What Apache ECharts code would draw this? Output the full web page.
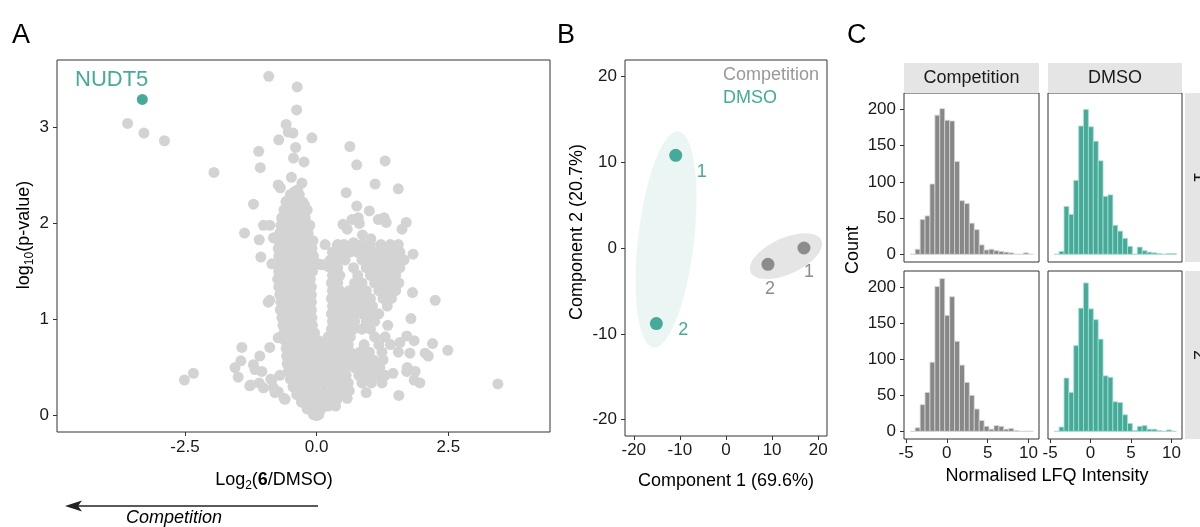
<!DOCTYPE html>
<html><head><meta charset="utf-8">
<script src="https://cdn.jsdelivr.net/npm/echarts@6/dist/echarts.min.js"></script>
<style>html,body{margin:0;padding:0;background:#fff}#c{width:1200px;height:527px}</style>
</head><body><div id="c"></div>
<script>
// ---------------- DATA ----------------
// Panel A: volcano plot, [log2(6/DMSO), -log10(p)]
const volcanoPoints = [
[-3.59,3.04],[-3.28,2.94],[-2.89,2.86],[-1.95,2.53],[-0.91,3.53],[-0.37,3.42],[-0.38,3.18],[-0.58,3.03],[-0.54,2.95],[-0.45,2.94],[-0.72,2.87],[-0.09,2.89],[-1.10,2.75],[-0.40,2.79],[-0.44,2.68],[-0.24,2.64],[-1.07,2.58],[-0.48,2.48],[-0.28,2.42],[-0.73,2.40],[-0.69,2.37],[-0.42,2.33],[-0.36,2.35],[-1.20,2.20],[-0.58,2.23],[-0.23,2.19],[-1.01,1.98],[-0.89,1.98],[-0.66,2.05],[-0.22,2.04],[-1.37,1.90],[-1.09,1.83],[-0.82,1.85],[-1.06,1.65],[-0.85,1.58],[-0.92,1.18],[-0.89,1.20],
[-2.51,0.37],[-2.34,0.44],[-1.42,0.71],[-0.89,0.71],[-1.08,0.62],[-1.44,0.57],[-1.55,0.50],[-1.49,0.40],[-1.20,0.53],[-1.17,0.48],[-1.04,0.46],[-1.25,0.32],[-1.09,0.34],[-1.01,0.29],[-0.85,0.37],[-0.73,0.25],[-0.62,0.18],[-0.82,0.29],[-0.70,0.42],[-1.27,0.31],[-0.87,0.38],[-0.79,0.24],[-0.60,0.17],[-0.73,0.81],
[0.63,2.80],[0.76,2.61],[1.30,2.65],[1.11,2.41],[1.55,2.36],[0.56,2.32],[0.76,2.18],[1.00,2.13],[0.79,2.06],[0.67,2.04],[0.81,2.00],[1.17,2.04],[1.28,2.06],[1.32,2.01],[1.70,2.01],[1.62,1.94],[0.50,1.99],[0.58,1.94],[0.87,1.88],[1.03,1.84],[0.16,1.78],[0.39,1.77],[0.45,1.75],[0.70,1.80],[1.83,1.68],[0.03,1.58],[0.19,1.58],[0.09,1.57],[0.22,1.55],
[1.82,1.28],[2.25,1.20],[1.79,1.01],[1.35,0.94],[2.20,0.75],[2.49,0.68],[2.06,0.65],[2.12,0.62],[3.44,0.33],[1.56,0.21],[1.96,0.34],[1.85,0.37],[1.71,0.46],[1.87,0.46],[0.94,0.24],[1.77,0.65],[1.71,0.83],[1.85,0.78],[1.58,0.76],[1.55,0.66],[1.45,0.44],[1.72,0.50],
[0.00,0.00],[-0.05,0.04],[0.06,0.05],[0.12,0.09],[-0.12,0.08],
[-0.50,2.30],[-0.33,2.30],
[-0.58,2.22],[-0.42,2.22],[-0.26,2.22],
[-0.62,2.14],[-0.47,2.14],[-0.31,2.14],[-0.18,2.14],
[-0.66,2.06],[-0.52,2.06],[-0.37,2.06],[-0.22,2.06],
[-0.68,1.98],[-0.55,1.98],[-0.40,1.98],[-0.26,1.98],[-0.13,1.98],
[-0.70,1.90],[-0.58,1.90],[-0.45,1.90],[-0.30,1.90],[-0.16,1.90],
[-0.72,1.82],[-0.60,1.82],[-0.47,1.82],[-0.33,1.82],[-0.19,1.82],[-0.07,1.82],
[-0.73,1.74],[-0.61,1.74],[-0.49,1.74],[-0.36,1.74],[-0.22,1.74],[-0.09,1.74],
[-0.72,1.66],[-0.60,1.66],[-0.46,1.66],[-0.33,1.66],[-0.19,1.66],[-0.06,1.66],
[-0.74,1.58],[-0.62,1.58],[-0.50,1.58],[-0.37,1.58],[-0.24,1.58],[-0.10,1.58],
[-0.72,1.50],[-0.60,1.50],[-0.48,1.50],[-0.35,1.50],[-0.21,1.50],[-0.08,1.50],
[-0.74,1.42],[-0.63,1.42],[-0.51,1.42],[-0.39,1.42],[-0.26,1.42],[-0.12,1.42],
[-0.72,1.34],[-0.61,1.34],[-0.49,1.34],[-0.37,1.34],[-0.23,1.34],[-0.10,1.34],
[-0.70,1.26],[-0.59,1.26],[-0.47,1.26],[-0.35,1.26],[-0.21,1.26],[-0.10,1.26],
[-0.68,1.18],[-0.57,1.18],[-0.45,1.18],[-0.32,1.18],[-0.20,1.18],[-0.10,1.18],
[-0.69,1.10],[-0.58,1.10],[-0.46,1.10],[-0.34,1.10],[-0.22,1.10],[-0.10,1.10],
[-0.66,1.02],[-0.55,1.02],[-0.43,1.02],[-0.31,1.02],[-0.18,1.02],[-0.09,1.02],
[-0.64,0.94],[-0.53,0.94],[-0.41,0.94],[-0.29,0.94],[-0.16,0.94],[-0.08,0.94],
[-0.62,0.86],[-0.51,0.86],[-0.39,0.86],[-0.27,0.86],[-0.14,0.86],[-0.04,0.86],
[-0.60,0.78],[-0.49,0.78],[-0.37,0.78],[-0.24,0.78],[-0.10,0.78],[0.04,0.78],
[-0.58,0.70],[-0.47,0.70],[-0.35,0.70],[-0.22,0.70],[-0.08,0.70],[0.06,0.70],
[-0.57,0.62],[-0.46,0.62],[-0.33,0.62],[-0.20,0.62],[-0.06,0.62],[0.08,0.62],
[-0.56,0.54],[-0.44,0.54],[-0.31,0.54],[-0.18,0.54],[-0.04,0.54],[0.10,0.54],
[-0.54,0.46],[-0.42,0.46],[-0.29,0.46],[-0.15,0.46],[-0.01,0.46],[0.13,0.46],
[-0.50,0.38],[-0.38,0.38],[-0.24,0.38],[-0.10,0.38],[0.04,0.38],[0.16,0.38],
[-0.45,0.30],[-0.31,0.30],[-0.17,0.30],[-0.03,0.30],[0.11,0.30],
[-0.38,0.22],[-0.24,0.22],[-0.10,0.22],[0.04,0.22],[0.16,0.22],
[-0.29,0.14],[-0.15,0.14],[-0.01,0.14],[0.12,0.14],
[-0.18,0.07],[-0.05,0.07],[0.08,0.07],
[-0.06,0.01],[0.04,0.01],
[0.40,1.78],[0.52,1.78],[0.68,1.78],[0.86,1.78],[1.02,1.78],[1.22,1.78],[1.40,1.78],[1.55,1.78],
[0.30,1.70],[0.46,1.70],[0.62,1.70],[0.78,1.70],[0.94,1.70],[1.10,1.70],[1.26,1.70],[1.42,1.70],[1.58,1.70],
[0.26,1.62],[0.38,1.62],[0.54,1.62],[0.86,1.62],[1.02,1.62],[1.18,1.62],[1.34,1.62],[1.50,1.62],[1.66,1.62],
[0.28,1.54],[0.40,1.54],[0.70,1.54],[0.94,1.54],[1.10,1.54],[1.26,1.54],[1.42,1.54],[1.58,1.54],
[0.30,1.46],[0.44,1.46],[0.78,1.46],[1.02,1.46],[1.18,1.46],[1.34,1.46],[1.50,1.46],
[0.28,1.38],[0.40,1.38],[0.72,1.38],[0.86,1.38],[1.10,1.38],[1.26,1.38],[1.42,1.38],[1.56,1.38],
[0.30,1.30],[0.44,1.30],[0.62,1.30],[0.78,1.30],[0.94,1.30],[1.18,1.30],[1.34,1.30],[1.50,1.30],
[0.28,1.22],[0.42,1.22],[0.56,1.22],[0.70,1.22],[0.86,1.22],[1.02,1.22],[1.26,1.22],[1.42,1.22],
[0.30,1.14],[0.44,1.14],[0.58,1.14],[0.74,1.14],[0.90,1.14],[1.06,1.14],[1.34,1.14],
[0.28,1.06],[0.42,1.06],[0.56,1.06],[0.70,1.06],[0.86,1.06],[1.02,1.06],[1.18,1.06],
[0.30,0.98],[0.44,0.98],[0.58,0.98],[0.72,0.98],[0.94,0.98],[1.10,0.98],
[0.28,0.90],[0.42,0.90],[0.56,0.90],[0.70,0.90],[0.86,0.90],[1.02,0.90],
[0.22,0.82],[0.36,0.82],[0.50,0.82],[0.64,0.82],[1.10,0.82],[1.30,0.82],
[0.18,0.74],[0.32,0.74],[0.46,0.74],[0.60,0.74],[0.90,0.74],[1.18,0.74],[1.40,0.74],
[0.22,0.66],[0.36,0.66],[0.50,0.66],[0.64,0.66],[0.82,0.66],[1.00,0.66],[1.24,0.66],
[0.20,0.58],[0.34,0.58],[0.48,0.58],[0.62,0.58],[0.76,0.58],[0.92,0.58],[1.08,0.58],[1.26,0.58],
[0.26,0.50],[0.40,0.50],[0.54,0.50],[0.72,0.50],[0.88,0.50],[1.02,0.50],[1.20,0.50],
[0.28,0.42],[0.42,0.42],[0.56,0.42],[0.80,0.42],[0.96,0.42],[1.14,0.42],[1.30,0.42],
[0.28,0.34],[0.44,0.34],[0.60,0.34],[0.86,0.34],[1.04,0.34],[1.24,0.34],
[0.30,0.26],[0.46,0.26],[0.62,0.26],
[0.26,0.18],[0.40,0.18],[0.58,0.18],
[0.22,0.10],[0.36,0.10]
];
const nudt5Point = [-3.31, 3.29];
const nudt5Label = 'NUDT5';
const volcanoXTicks = [-2.5, 0, 2.5];
const volcanoYTicks = [0, 1, 2, 3];

// Panel B: PCA scores
const pcaReplicates = ['1', '2'];
const pcaDmsoComp1 = [-10.9, -15.1];
const pcaDmsoComp2 = [10.8, -8.8];
const pcaCompetitionComp1 = [16.9, 9.1];
const pcaCompetitionComp2 = [0.0, -1.9];
const pcaTicks = [-20, -10, 0, 10, 20];

// Panel C: histograms of normalised LFQ intensity
const histBinEdges = [-4.48,-3.88,-3.27,-2.67,-2.07,-1.46,-0.86,-0.26,0.35,0.95,1.55,2.16,2.76,3.36,3.97,4.57,5.17,5.78,6.38,6.98,7.59,8.19,8.79,9.40,10.00,10.60];
const histCompetitionRep1 = [0,7,48,53,97,192,201,185,184,128,74,70,43,34,13,6,7,5,4,3,2,0,0,2,0];
const histCompetitionRep2 = [0,5,37,54,96,201,212,161,187,125,92,68,50,31,15,7,3,8,7,3,4,1,0,0,0];
const histDmsoRep1 = [0,4,66,55,102,177,200,176,156,129,80,82,40,32,22,11,0,10,5,3,2,1,0,1,1];
const histDmsoRep2 = [0,6,74,54,119,171,206,170,155,128,77,75,41,40,23,11,1,7,8,3,3,1,0,2,0];
const histXTicks = [-5, 0, 5, 10];
const histYTicks = [0, 50, 100, 150, 200];
const facetCols = ['Competition', 'DMSO'];
const facetRows = ['1', '2'];

// ---------------- STYLE ----------------
const F = 'Liberation Sans, Arial, Helvetica, sans-serif';
const TEAL = '#45AB98';
const GREY_PT = '#8C8C8C';
const LIGHT = '#D3D3D3';
const HIST_GREY = '#878787';
const TICK_COL = '#1a1a1a';
const pcaLabelOffsetsDmso = [[26, 17], [27, 6]];
const pcaLabelOffsetsComp = [[5, 24], [2, 25]];
const ellipseStyle = [
  { extra: 24, minor: 28, fill: 'rgba(69,171,152,0.11)' },
  { extra: 19, minor: 18, fill: 'rgba(150,150,150,0.25)' }
];

function axisCommon(ticks, fmt, showLabel, showTick, margin) {
  return {
    type: 'value',
    axisLine: { show: false, onZero: false },
    splitLine: { show: false },
    axisTick: { show: showTick, length: 4, lineStyle: { color: '#333', width: 1 }, customValues: ticks },
    axisLabel: { show: showLabel, customValues: ticks, formatter: fmt, fontSize: 17, fontFamily: F, color: TICK_COL, margin: margin }
  };
}

function ellipseItem(params, api) {
  const g = api.value(0);
  const xs = g === 0 ? pcaDmsoComp1 : pcaCompetitionComp1;
  const ys = g === 0 ? pcaDmsoComp2 : pcaCompetitionComp2;
  const p1 = api.coord([xs[0], ys[0]]);
  const p2 = api.coord([xs[1], ys[1]]);
  const cx = (p1[0] + p2[0]) / 2, cy = (p1[1] + p2[1]) / 2;
  const dx = p1[0] - p2[0], dy = p1[1] - p2[1];
  const st = ellipseStyle[g];
  const a = Math.hypot(dx, dy) / 2 + st.extra, b = st.minor;
  const ang = Math.atan2(dy, dx);
  const pts = [];
  for (let i = 0; i < 96; i++) {
    const t = i / 96 * 2 * Math.PI;
    const ex = a * Math.cos(t), ey = b * Math.sin(t);
    pts.push([cx + ex * Math.cos(ang) - ey * Math.sin(ang), cy + ex * Math.sin(ang) + ey * Math.cos(ang)]);
  }
  return { type: 'polygon', shape: { points: pts }, style: { fill: st.fill } };
}

function histRender(fill, stroke) {
  return function (params, api) {
    const a = api.coord([api.value(0), api.value(2)]);
    const b = api.coord([api.value(1), 0]);
    return { type: 'rect', shape: { x: a[0], y: a[1], width: b[0] - a[0], height: b[1] - a[1] },
      style: { fill: fill, stroke: stroke, lineWidth: 0.8 } };
  };
}
function histData(counts) {
  return counts.map((c, i) => [histBinEdges[i], histBinEdges[i + 1], c]);
}

const gridBase = { show: true, borderColor: '#333', borderWidth: 1, backgroundColor: 'transparent', containLabel: false };
const grids = [
  Object.assign({ left: 57, top: 60, width: 493, height: 372 }, gridBase),
  Object.assign({ left: 625, top: 60, width: 202, height: 376 }, gridBase),
  Object.assign({ left: 904, top: 93, width: 135, height: 169 }, gridBase),
  Object.assign({ left: 1048, top: 93, width: 134, height: 169 }, gridBase),
  Object.assign({ left: 904, top: 271, width: 135, height: 168 }, gridBase),
  Object.assign({ left: 1048, top: 271, width: 134, height: 168 }, gridBase)
];

const f1 = v => v.toFixed(1);
const f0 = v => String(v);
const xAxes = [
  Object.assign(axisCommon(volcanoXTicks, f1, true, true, 7), { gridIndex: 0, min: -4.93, max: 4.43 }),
  Object.assign(axisCommon(pcaTicks, f0, true, true, 6), { gridIndex: 1, min: -21.9, max: 21.9 }),
  Object.assign(axisCommon(histXTicks, f0, false, false, 6), { gridIndex: 2, min: -5.25, max: 11.3 }),
  Object.assign(axisCommon(histXTicks, f0, false, false, 6), { gridIndex: 3, min: -5.25, max: 11.3 }),
  Object.assign(axisCommon(histXTicks, f0, true, true, 6), { gridIndex: 4, min: -5.25, max: 11.3 }),
  Object.assign(axisCommon(histXTicks, f0, true, true, 6), { gridIndex: 5, min: -5.25, max: 11.3 })
];
const yAxes = [
  Object.assign(axisCommon(volcanoYTicks, f0, true, true, 8), { gridIndex: 0, min: -0.17, max: 3.70 }),
  Object.assign(axisCommon(pcaTicks, f0, true, true, 8), { gridIndex: 1, min: -21.9, max: 21.9 }),
  Object.assign(axisCommon(histYTicks, f0, true, true, 8), { gridIndex: 2, min: -10.6, max: 222.6 }),
  Object.assign(axisCommon(histYTicks, f0, false, false, 8), { gridIndex: 3, min: -10.6, max: 222.6 }),
  Object.assign(axisCommon(histYTicks, f0, true, true, 8), { gridIndex: 4, min: -10.6, max: 222.6 }),
  Object.assign(axisCommon(histYTicks, f0, false, false, 8), { gridIndex: 5, min: -10.6, max: 222.6 })
];

function pcaSeries(xs, ys, color, offsets) {
  return {
    type: 'scatter', xAxisIndex: 1, yAxisIndex: 1, symbolSize: 13, z: 5,
    itemStyle: { color: color, opacity: 1 },
    data: xs.map((x, i) => ({
      value: [x, ys[i]],
      label: { show: true, formatter: pcaReplicates[i], position: 'inside', offset: offsets[i],
        color: color, fontSize: 18, fontFamily: F }
    }))
  };
}

const series = [
  { type: 'scatter', xAxisIndex: 0, yAxisIndex: 0, symbolSize: 11, itemStyle: { color: LIGHT, opacity: 1 }, data: volcanoPoints },
  { type: 'scatter', xAxisIndex: 0, yAxisIndex: 0, symbolSize: 11, itemStyle: { color: TEAL, opacity: 1 }, z: 4,
    data: [nudt5Point],
    label: { show: true, formatter: nudt5Label, position: 'top', align: 'right', offset: [6, 2], color: TEAL, fontSize: 22, fontFamily: F } },
  { type: 'custom', xAxisIndex: 1, yAxisIndex: 1, renderItem: ellipseItem, data: [[0], [1]], z: 1, silent: true },
  pcaSeries(pcaDmsoComp1, pcaDmsoComp2, TEAL, pcaLabelOffsetsDmso),
  pcaSeries(pcaCompetitionComp1, pcaCompetitionComp2, GREY_PT, pcaLabelOffsetsComp),
  { type: 'custom', xAxisIndex: 2, yAxisIndex: 2, renderItem: histRender(HIST_GREY, '#D6D6D6'), data: histData(histCompetitionRep1), encode: { x: [0, 1], y: 2 } },
  { type: 'custom', xAxisIndex: 3, yAxisIndex: 3, renderItem: histRender(TEAL, '#A9DDD3'), data: histData(histDmsoRep1), encode: { x: [0, 1], y: 2 } },
  { type: 'custom', xAxisIndex: 4, yAxisIndex: 4, renderItem: histRender(HIST_GREY, '#D6D6D6'), data: histData(histCompetitionRep2), encode: { x: [0, 1], y: 2 } },
  { type: 'custom', xAxisIndex: 5, yAxisIndex: 5, renderItem: histRender(TEAL, '#A9DDD3'), data: histData(histDmsoRep2), encode: { x: [0, 1], y: 2 } }
];

function txt(x, y, text, opts) {
  return Object.assign({ type: 'text', x: x, y: y, silent: true,
    style: Object.assign({ text: text, fontSize: 18, fontFamily: F, fill: '#000', align: 'center', verticalAlign: 'middle' }, (opts && opts.style) || {}) },
    (opts && opts.el) || {});
}

const graphic = [
  txt(12, 36, 'A', { style: { fontSize: 27, align: 'left' } }),
  txt(557, 36, 'B', { style: { fontSize: 27, align: 'left' } }),
  txt(847, 36, 'C', { style: { fontSize: 27, align: 'left' } }),
  // panel A titles
  txt(274, 480, '{n|Log}{s|2}{n|(}{b|6}{n|/DMSO)}', { style: { rich: {
      n: { fontSize: 18, fontFamily: F, fill: '#000' },
      s: { fontSize: 12, fontFamily: F, fill: '#000', padding: [11, 0, 0, 0] },
      b: { fontSize: 18, fontFamily: F, fill: '#000', fontWeight: 'bold' } } } }),
  txt(24, 235, '{n|log}{s|10}{n|(p-value)}', { el: { rotation: Math.PI / 2 }, style: { rich: {
      n: { fontSize: 18, fontFamily: F, fill: '#000' },
      s: { fontSize: 12, fontFamily: F, fill: '#000', padding: [11, 0, 0, 0] } } } }),
  // arrow + Competition
  { type: 'line', silent: true, shape: { x1: 318, y1: 506, x2: 74, y2: 506 }, style: { stroke: '#222', lineWidth: 1.5 } },
  { type: 'polygon', silent: true, shape: { points: [[65, 506], [82, 500.5], [78, 506], [82, 511.5]] }, style: { fill: '#222' } },
  txt(174, 518, 'Competition', { style: { fontStyle: 'italic' } }),
  // panel B titles / legend
  txt(726, 481, 'Component 1 (69.6%)'),
  txt(577, 232, 'Component 2 (20.7%)', { el: { rotation: Math.PI / 2 } }),
  txt(723, 75, 'Competition', { style: { align: 'left', fill: '#999999' } }),
  txt(723, 98, 'DMSO', { style: { align: 'left', fill: TEAL } }),
  // panel C strips
  { type: 'rect', silent: true, shape: { x: 904, y: 63, width: 135, height: 30 }, style: { fill: '#E5E5E5' } },
  { type: 'rect', silent: true, shape: { x: 1048, y: 63, width: 134, height: 30 }, style: { fill: '#E5E5E5' } },
  { type: 'rect', silent: true, shape: { x: 1185, y: 93, width: 30, height: 169 }, style: { fill: '#E5E5E5' } },
  { type: 'rect', silent: true, shape: { x: 1185, y: 271, width: 30, height: 168 }, style: { fill: '#E5E5E5' } },
  txt(971.5, 78, facetCols[0], { style: { fill: '#1a1a1a' } }),
  txt(1115, 78, facetCols[1], { style: { fill: '#1a1a1a' } }),
  txt(1199, 177, facetRows[0], { el: { rotation: -Math.PI / 2 }, style: { fill: '#1a1a1a' } }),
  txt(1199, 355, facetRows[1], { el: { rotation: -Math.PI / 2 }, style: { fill: '#1a1a1a' } }),
  txt(853, 250, 'Count', { el: { rotation: Math.PI / 2 } }),
  txt(1047, 476, 'Normalised LFQ Intensity')
];

const chart = echarts.init(document.getElementById('c'), null, { renderer: 'canvas' });
chart.setOption({
  animation: false,
  backgroundColor: '#fff',
  textStyle: { fontFamily: F },
  grid: grids,
  xAxis: xAxes,
  yAxis: yAxes,
  series: series,
  graphic: graphic
});
</script></body></html>
